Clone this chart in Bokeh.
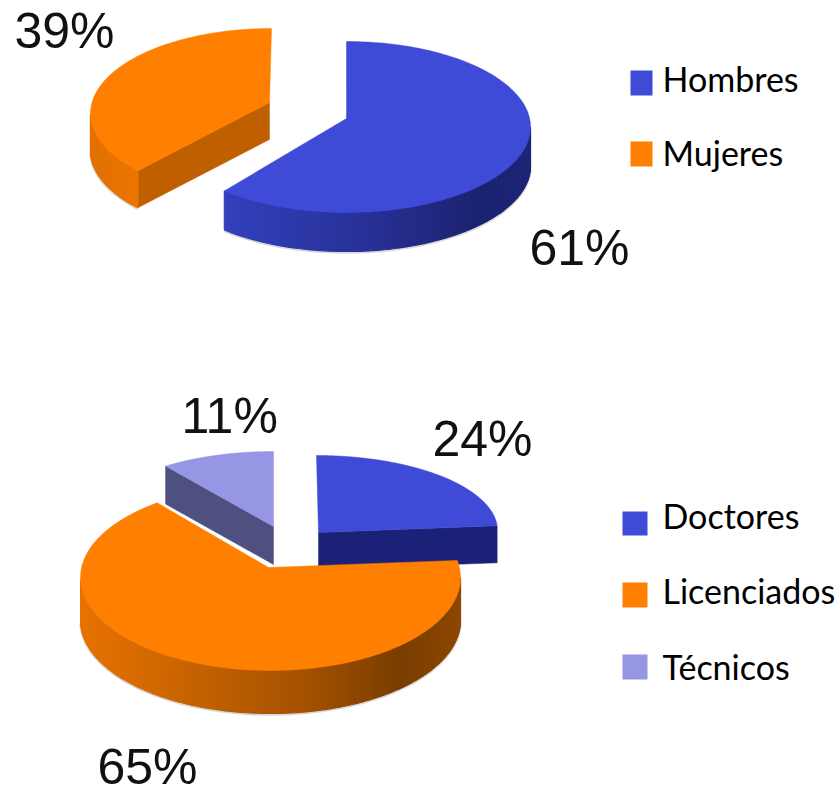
import math
from bokeh.plotting import figure
from bokeh.models import Range1d
from bokeh.core.properties import value
from bokeh.embed import file_html
from bokeh.resources import INLINE

# ---- data
gender_labels = ["Hombres", "Mujeres"]
gender_shares = [61, 39]
degree_labels = ["Doctores", "Licenciados", "Técnicos"]
degree_shares = [24, 65, 11]

# ---- palette
BLUE, ORANGE, LILAC = "#3F4BD6", "#FF7F00", "#9696E4"
BLUE_WALL = [(224, "#3340BC"), (340, "#2A349E"), (480, "#1B2270"), (530, "#1E2678")]
ORANGE_WALL_SMALL = [(90, "#E27000"), (137, "#EC7500")]
ORANGE_WALL_BIG = [(80, "#E87200"), (180, "#C96400"), (300, "#A55200"), (400, "#7A3D00"), (460, "#8E4700")]


def hex_rgb(c):
    return tuple(int(c[i:i + 2], 16) for i in (1, 3, 5))


def ramp(stops, x):
    if x <= stops[0][0]:
        return stops[0][1]
    for (x0, c0), (x1, c1) in zip(stops, stops[1:]):
        if x <= x1:
            f = (x - x0) / (x1 - x0)
            a, b = hex_rgb(c0), hex_rgb(c1)
            return "#%02x%02x%02x" % tuple(round(u + (v - u) * f) for u, v in zip(a, b))
    return stops[-1][1]


p = figure(width=839, height=794, x_range=Range1d(0, 839), y_range=Range1d(794, 0),
           output_backend="svg", toolbar_location=None, min_border=0,
           outline_line_color=None, background_fill_color="white", border_fill_color="white")
p.xaxis.visible = False
p.yaxis.visible = False
p.grid.visible = False


def spread(shares, start=0.0):
    """clockwise (start, end) angle, degrees from the top, of each share"""
    out, run = [], start
    for s in shares:
        out.append((run, run + s * 3.6))
        run += s * 3.6
    return out


def slice3d(span, cx, cy, a, b, apex, depth, top, wall=None, cut=None, nudge=(0, 0)):
    t0, t1 = span[0] + nudge[0], span[1] + nudge[1]
    pt = lambda t, dy=0: (cx + a * math.sin(math.radians(t)), cy - b * math.cos(math.radians(t)) + dy)
    n = 160
    ts = [t0 + (t1 - t0) * i / n for i in range(n + 1)]
    # straight cut face, from the apex to the front corner
    if cut:
        corner = pt(t0) if pt(t0)[1] > pt(t1)[1] else pt(t1)
        xs = [apex[0], corner[0], corner[0], apex[0]]
        ys = [apex[1], corner[1], corner[1] + depth, apex[1] + depth]
        p.patch(xs, ys, fill_color=cut, line_color=cut, line_width=0.5)
    # outer curved wall, painted in thin strips
    if wall:
        vis = [t for t in ts if 90 <= t % 360 <= 270]
        p.line([pt(t, depth)[0] for t in vis], [pt(t, depth)[1] + 1 for t in vis],
               line_color="#909090", line_alpha=0.35, line_width=2.5)
        xs, ys, cs = [], [], []
        for u, v in zip(vis, vis[1:]):
            (x0, y0), (x1, y1) = pt(u), pt(v)
            xs.append([x0, x1, x1, x0])
            ys.append([y0, y1, y1 + depth, y0 + depth])
            cs.append(ramp(wall, (x0 + x1) / 2))
        p.patches(xs, ys, fill_color=cs, line_color=cs, line_width=1.2)
    # top surface
    xs = [apex[0]] + [pt(t)[0] for t in ts]
    ys = [apex[1]] + [pt(t)[1] for t in ts]
    p.patch(xs, ys, fill_color=top, line_color=top, line_width=0.5)


# ---- upper pie
g = spread(gender_shares)
slice3d(g[1], 271, 113, 181, 85, (269, 102), 37, ORANGE, wall=ORANGE_WALL_SMALL, cut="#C05F00", nudge=(8, 0))
slice3d(g[0], 346, 126.5, 184, 85.5, (346, 118), 39, BLUE, wall=BLUE_WALL, nudge=(0, 2))

# ---- lower pie
d = spread(degree_shares)
slice3d(d[2], 273, 525, 181, 74, (273, 526), 38, LILAC, cut="#4E5080", nudge=(3, 0))
slice3d(d[0], 316, 530, 181, 75, (318, 532), 37, BLUE, cut="#1A2176")
slice3d(d[1], 270, 577, 190, 93, (268, 567), 43, ORANGE, wall=ORANGE_WALL_BIG, nudge=(-7, 3))

# ---- percentage labels
pct_x = [14, 529, 432, 97, 181]
pct_y = [50, 267, 458, 786, 435]
pct_t = [f"{gender_shares[1]}%", f"{gender_shares[0]}%", f"{degree_shares[0]}%", f"{degree_shares[1]}%", f"{degree_shares[2]}%"]
p.text(pct_x, pct_y, text=pct_t, text_font=value("Liberation Sans"), text_font_size="50px",
       text_color="#111111", text_align="left", text_baseline="alphabetic", y_offset=-20)

# ---- legends
swatch = [(630, 652, 70, 95, BLUE), (630, 652, 141, 166, ORANGE),
          (622, 647, 511, 535, BLUE), (622, 647, 582, 607, ORANGE), (622, 647, 654, 679, LILAC)]
p.quad(left=[s[0] for s in swatch], right=[s[1] for s in swatch], top=[s[2] for s in swatch],
       bottom=[s[3] for s in swatch], fill_color=[s[4] for s in swatch], line_color=None)
leg_t = gender_labels + degree_labels
leg_y = [92, 166, 529, 604, 680]
p.text([662] * 5, leg_y, text=leg_t, text_font=value("Lato"), text_font_size="34px",
       text_color="#000000", text_align="left", text_baseline="alphabetic", y_offset=-14)

open("out.html", "w").write(file_html(p, INLINE))
